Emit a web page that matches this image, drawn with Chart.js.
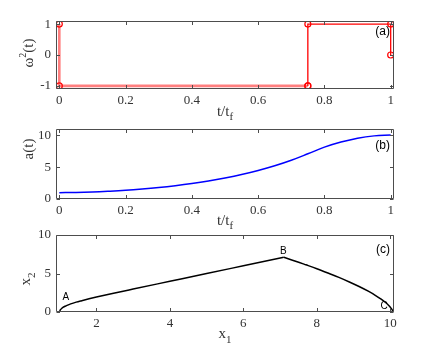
<!DOCTYPE html>
<html><head><meta charset="utf-8">
<script src="https://cdn.jsdelivr.net/npm/chart.js@4.4.1/dist/chart.umd.min.js"></script>
<style>
html,body{margin:0;padding:0;background:#fff;}
#wrap{position:relative;width:436px;height:350px;background:#fff;}
canvas{position:absolute;left:0;top:0;}
</style></head><body>
<div id="wrap">
<canvas id="ca" width="436" height="350"></canvas>
<canvas id="cb" width="436" height="350"></canvas>
<canvas id="cc" width="436" height="350"></canvas>
</div>
<script>
// ---------- data ----------
// (a) control omega^2(t) vs t/tf
const omegaT1 = [0, 0, 0.75];
const omegaV1 = [1, -1, -1];
const omegaT2 = [0.75, 0.75, 1, 1];
const omegaV2 = [-1, 1, 1, 0];
// (b) a(t) vs t/tf
const timeT = [0, 0.05, 0.1, 0.15, 0.2, 0.25, 0.3, 0.35, 0.4, 0.45, 0.5, 0.55, 0.6, 0.65, 0.7, 0.75, 0.8, 0.85, 0.9, 0.95, 1];
const aVals = [1, 1.02, 1.09, 1.21, 1.36, 1.56, 1.80, 2.09, 2.43, 2.83, 3.30, 3.84, 4.48, 5.22, 6.09, 7.10, 8.15, 8.95, 9.56, 9.92, 10.04];
// (c) phase portrait x2 vs x1
const x1Up = [1, 1.01, 1.03, 1.06, 1.1, 1.15, 1.2, 1.3, 1.45, 1.6, 1.8, 2, 2.5, 3, 4, 5, 6, 7.1];
const x2Up = [0, 0.20, 0.34, 0.48, 0.62, 0.75, 0.86, 1.05, 1.28, 1.47, 1.71, 1.94, 2.47, 2.98, 3.99, 5.00, 6.00, 7.10];
const x1Down = [7.1, 7.4, 7.7, 8.0, 8.3, 8.6, 8.9, 9.15, 9.4, 9.6, 9.75, 9.87, 9.95, 10.0, 10.04, 10.06, 10.07];
const x2Down = [7.10, 6.63, 6.13, 5.62, 5.07, 4.50, 3.87, 3.31, 2.70, 2.14, 1.67, 1.23, 0.88, 0.62, 0.36, 0.18, 0];
// ticks
const tTicks = [0, 0.2, 0.4, 0.6, 0.8, 1];
const omegaTicks = [-1, 0, 1];
const aTicks = [0, 5, 10];
const x1Ticks = [2, 4, 6, 8, 10];
const x2Ticks = [0, 5, 10];
// texts
const panelTags = ['(a)', '(b)', '(c)'];
const pointTags = ['A', 'B', 'C'];
const pointTagX1 = [1.17, 7.09, 9.83];
const pointTagX2 = [1.88, 7.87, 0.70];

// ---------- helpers ----------
const SERIF = '"Liberation Serif", "Times New Roman", serif';
const SANS = '"Liberation Sans", Arial, sans-serif';
const AXC = '#4d4d4d';
const TXC = '#333333';
const TICK_SIZE = 13, TITLE_SIZE = 15;

function drawParts(ctx, parts, x, y) {
  let total = 0;
  parts.forEach(p => { ctx.font = p.size + 'px ' + SERIF; p.w = ctx.measureText(p.t).width; total += p.w; });
  let cx = x - total / 2;
  ctx.textAlign = 'left';
  ctx.textBaseline = 'alphabetic';
  parts.forEach(p => { ctx.font = p.size + 'px ' + SERIF; ctx.fillText(p.t, cx, y + (p.dy || 0)); cx += p.w; });
}

function framePlugin(extra) {
  return {
    id: 'frame',
    afterDraw(chart) {
      const ctx = chart.ctx, ca = chart.chartArea;
      const xs = chart.scales.x, ys = chart.scales.y;
      ctx.save();
      ctx.strokeStyle = AXC; ctx.lineWidth = 1;
      const L = Math.round(ca.left) + 0.5, R = Math.round(ca.right) - 0.5;
      const T = Math.round(ca.top) + 0.5, B = Math.round(ca.bottom) - 0.5;
      ctx.beginPath();
      ctx.rect(L, T, R - L, B - T);
      xs.ticks.forEach(tk => {
        const px = Math.round(xs.getPixelForValue(tk.value)) + 0.5;
        ctx.moveTo(px, B); ctx.lineTo(px, B - 3.5);
        ctx.moveTo(px, T); ctx.lineTo(px, T + 3.5);
      });
      ys.ticks.forEach(tk => {
        const py = Math.round(ys.getPixelForValue(tk.value)) + 0.5;
        ctx.moveTo(L, py); ctx.lineTo(L + 3.5, py);
        ctx.moveTo(R, py); ctx.lineTo(R - 3.5, py);
      });
      ctx.stroke();
      ctx.fillStyle = TXC;
      extra(chart, ctx, ca, xs, ys);
      ctx.restore();
    }
  };
}

function makeChart(id, cfg) {
  const fixTicks = arr => scale => { scale.ticks = arr.map(v => ({ value: v })); };
  const tickOpts = (pad) => ({
    font: { family: SERIF, size: TICK_SIZE }, color: TXC, padding: pad,
    maxRotation: 0, autoSkip: false, callback: v => String(v)
  });
  return new Chart(document.getElementById(id), {
    type: 'scatter',
    data: { datasets: cfg.datasets },
    options: {
      responsive: false, animation: false, devicePixelRatio: 1,
      layout: { padding: { left: 0, right: 42, top: cfg.top, bottom: 350 - cfg.bottom - 30 } },
      plugins: { legend: { display: false }, tooltip: { enabled: false } },
      elements: { point: { radius: 0 } },
      scales: {
        x: {
          type: 'linear', min: cfg.xMin, max: cfg.xMax,
          afterBuildTicks: fixTicks(cfg.xTicks), afterFit: s => { s.height = 30; },
          grid: { display: false, drawTicks: false }, border: { display: false },
          ticks: tickOpts(4)
        },
        y: {
          type: 'linear', min: cfg.yMin, max: cfg.yMax,
          afterBuildTicks: fixTicks(cfg.yTicks), afterFit: s => { s.width = 56; },
          grid: { display: false, drawTicks: false }, border: { display: false },
          ticks: tickOpts(5)
        }
      }
    },
    plugins: [framePlugin(cfg.extra)]
  });
}

const zip = (xs, ys) => xs.map((x, i) => ({ x: x, y: ys[i] }));

function tagRight(ctx, ca, text, dy) {
  ctx.font = '12px ' + SANS;
  ctx.fillStyle = '#000';
  ctx.textAlign = 'right'; ctx.textBaseline = 'middle';
  ctx.fillText(text, ca.right - 4, ca.top + dy);
}

// ---------- (a) ----------
makeChart('ca', {
  top: 21, bottom: 89, xMin: -0.01, xMax: 1.01, yMin: -1.1, yMax: 1.1,
  xTicks: tTicks, yTicks: omegaTicks,
  datasets: [
    { data: zip(omegaT1, omegaV1), showLine: true, borderColor: 'rgba(255,0,0,0.5)', borderWidth: 2.6,
      pointRadius: 3, pointStyle: 'circle', pointBorderColor: '#ff0000', pointBackgroundColor: 'rgba(0,0,0,0)', pointBorderWidth: 1.2 },
    { data: zip(omegaT2, omegaV2), showLine: true, borderColor: '#ff0000', borderWidth: 1.3,
      pointRadius: 3, pointStyle: 'circle', pointBorderColor: '#ff0000', pointBackgroundColor: 'rgba(0,0,0,0)', pointBorderWidth: 1.2 }
  ],
  extra(chart, ctx, ca) {
    drawParts(ctx, [{ t: 't/t', size: TITLE_SIZE }, { t: 'f', size: 11, dy: 4 }], (ca.left + ca.right) / 2, ca.bottom + 27);
    ctx.save(); ctx.translate(33, 53); ctx.rotate(-Math.PI / 2);
    drawParts(ctx, [{ t: 'ω', size: TITLE_SIZE }, { t: '2', size: 10, dy: -7 }, { t: '(t)', size: TITLE_SIZE }], 0, 0);
    ctx.restore();
    tagRight(ctx, ca, panelTags[0], 11);
  }
});

// ---------- (b) ----------
makeChart('cb', {
  top: 129, bottom: 199, xMin: -0.01, xMax: 1.01, yMin: 0, yMax: 11,
  xTicks: tTicks, yTicks: aTicks,
  datasets: [
    { data: zip(timeT, aVals), showLine: true, borderColor: '#0000ff', borderWidth: 1.5,
      tension: 0.4, pointRadius: 0 }
  ],
  extra(chart, ctx, ca) {
    drawParts(ctx, [{ t: 't/t', size: TITLE_SIZE }, { t: 'f', size: 11, dy: 4 }], (ca.left + ca.right) / 2, ca.bottom + 26);
    ctx.save(); ctx.translate(33, 149); ctx.rotate(-Math.PI / 2);
    drawParts(ctx, [{ t: 'a(t)', size: TITLE_SIZE }], 0, 0);
    ctx.restore();
    tagRight(ctx, ca, panelTags[1], 17);
  }
});

// ---------- (c) ----------
makeChart('cc', {
  top: 235, bottom: 312, xMin: 0.9, xMax: 10.1, yMin: 0, yMax: 10,
  xTicks: x1Ticks, yTicks: x2Ticks,
  datasets: [
    { data: zip(x1Up, x2Up), showLine: true, borderColor: '#000', borderWidth: 1.5,
      cubicInterpolationMode: 'monotone', pointRadius: 0 },
    { data: zip(x1Down, x2Down), showLine: true, borderColor: '#000', borderWidth: 1.5,
      cubicInterpolationMode: 'monotone', pointRadius: 0 }
  ],
  extra(chart, ctx, ca, xs, ys) {
    drawParts(ctx, [{ t: 'x', size: TITLE_SIZE }, { t: '1', size: 11, dy: 5 }], (ca.left + ca.right) / 2, ca.bottom + 26);
    ctx.save(); ctx.translate(29.5, 279); ctx.rotate(-Math.PI / 2);
    drawParts(ctx, [{ t: 'x', size: TITLE_SIZE }, { t: '2', size: 11, dy: 5 }], 0, 0);
    ctx.restore();
    tagRight(ctx, ca, panelTags[2], 15);
    ctx.font = '10px ' + SANS; ctx.fillStyle = '#000';
    ctx.textAlign = 'center'; ctx.textBaseline = 'middle';
    pointTags.forEach((t, i) => ctx.fillText(t, xs.getPixelForValue(pointTagX1[i]), ys.getPixelForValue(pointTagX2[i])));
  }
});
</script>
</body></html>
